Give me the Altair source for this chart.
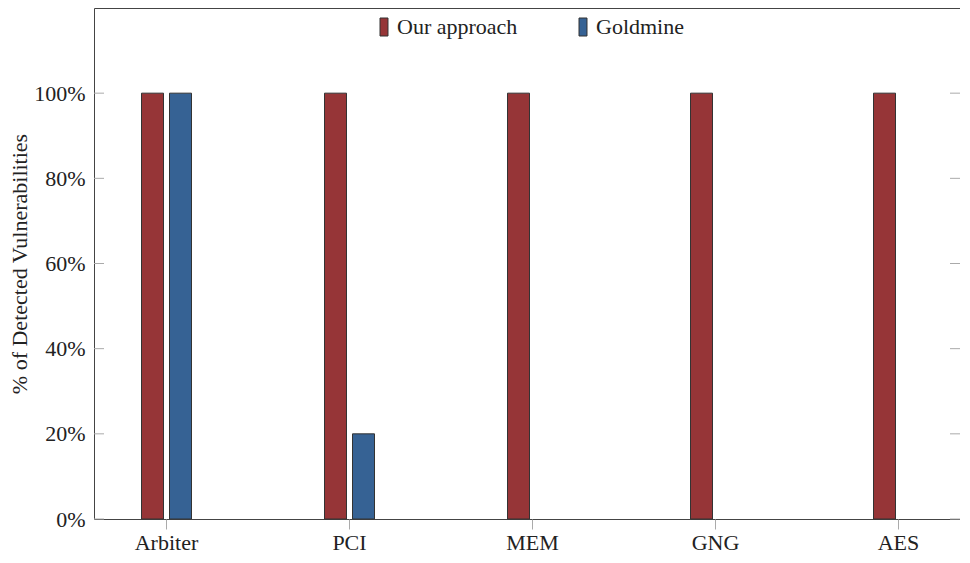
import altair as alt
import pandas as pd

categories = ["Arbiter", "PCI", "MEM", "GNG", "AES"]
series_names = ["Our approach", "Goldmine"]
ours = [100, 100, 100, 100, 100]
goldmine = [100, 20, 0, 0, 0]
y_ticks = [0, 20, 40, 60, 80, 100]

df = pd.DataFrame({
    "category": categories + categories,
    "series": [series_names[0]] * len(categories) + [series_names[1]] * len(categories),
    "value": ours + goldmine,
})
tick_df = pd.DataFrame({"value": y_ticks})

FONT = "Liberation Serif"
TXT = "#222222"
W = 866

x_enc = alt.X(
    "category:N", sort=categories,
    scale=alt.Scale(type="point", range=[72, 804], padding=0),
    axis=alt.Axis(title=None, labelAngle=0, tickSize=10, tickColor="#aaaaaa",
                  domain=False, labelPadding=3, labelFontSize=22),
)
y_enc = alt.Y(
    "value:Q",
    scale=alt.Scale(domain=[0, 120], nice=False, zero=True),
    axis=alt.Axis(values=y_ticks, labelExpr="datum.value + '%'",
                  title="% of Detected Vulnerabilities", ticks=False, domain=False,
                  grid=False, labelPadding=9, titlePadding=2, labelFontSize=22,
                  titleFontSize=22),
)
color = alt.Color(
    "series:N",
    scale=alt.Scale(domain=series_names, range=["#963537", "#366294"]),
    legend=alt.Legend(
        orient="none", legendX=279, legendY=8, direction="horizontal", title=None,
        symbolType="M-0.444,-1L0.444,-1L0.444,1L-0.444,1Z", symbolSize=324,
        symbolStrokeColor="#333333", symbolStrokeWidth=1, symbolOpacity=1,
        labelFontSize=22, labelOffset=2, columnPadding=54, padding=0,
    ),
)

base = alt.Chart(df).transform_filter(alt.datum.value > 0)
bars_ours = base.transform_filter(alt.datum.series == series_names[0]).mark_bar(
    width=22, xOffset=-13.5, stroke="#333333", strokeWidth=1
).encode(x=x_enc, y=y_enc, color=color)
bars_gold = base.transform_filter(alt.datum.series == series_names[1]).mark_bar(
    width=22, xOffset=14.5, stroke="#333333", strokeWidth=1
).encode(x=x_enc, y=y_enc, color=color)

ticks_left = alt.Chart(tick_df).mark_rule(color="#aaaaaa").encode(
    y=y_enc, x=alt.value(0), x2=alt.value(10)
)
ticks_right = alt.Chart(tick_df).mark_rule(color="#aaaaaa").encode(
    y=y_enc, x=alt.value(W - 10), x2=alt.value(W)
)

chart = alt.layer(ticks_left, ticks_right, bars_ours, bars_gold).properties(
    width=W, height=511, autosize="none",
    padding={"left": 86, "top": 0, "right": 0, "bottom": 36},
).configure(font=FONT).configure_axis(
    labelFont=FONT, titleFont=FONT, labelColor=TXT, titleColor=TXT,
    titleFontWeight="normal",
).configure_legend(labelFont=FONT, labelColor=TXT).configure_view(
    stroke="#444444", strokeWidth=1
)

chart.save("out.html", embed_options={"renderer": "svg", "actions": False})
